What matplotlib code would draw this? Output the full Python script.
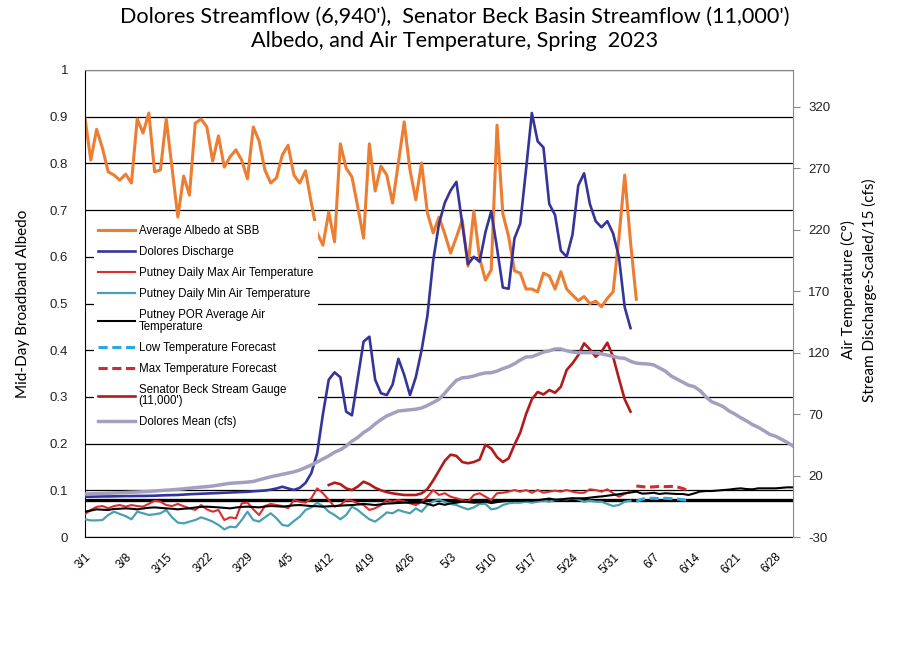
import matplotlib.pyplot as plt
import numpy as np

plt.rcParams['font.family'] = ['Liberation Sans', 'DejaVu Sans']
plt.rcParams['axes.unicode_minus'] = False

# x axis: day index from 3/1
tick_labels = ["3/1", "3/8", "3/15", "3/22", "3/29", "4/5", "4/12", "4/19", "4/26",
               "5/3", "5/10", "5/17", "5/24", "5/31", "6/7", "6/14", "6/21", "6/28"]
tick_days = list(range(0, 120, 7))
last_day = 122

# left axis: mid-day albedo at SBB (from 3/1)
albedo = [0.897, 0.807, 0.873, 0.833, 0.782, 0.775, 0.764, 0.777, 0.758, 0.895,
          0.865, 0.908, 0.782, 0.786, 0.895, 0.790, 0.685, 0.773, 0.732, 0.886,
          0.895, 0.878, 0.805, 0.859, 0.792, 0.814, 0.829, 0.807, 0.767, 0.878,
          0.848, 0.786, 0.758, 0.769, 0.818, 0.839, 0.775, 0.758, 0.784, 0.715,
          0.651, 0.625, 0.696, 0.632, 0.842, 0.790, 0.771, 0.707, 0.640, 0.842,
          0.741, 0.794, 0.775, 0.715, 0.801, 0.889, 0.786, 0.722, 0.801, 0.694,
          0.651, 0.685, 0.649, 0.608, 0.642, 0.679, 0.580, 0.698, 0.597, 0.550,
          0.572, 0.882, 0.692, 0.643, 0.570, 0.565, 0.531, 0.531, 0.525, 0.565,
          0.559, 0.531, 0.568, 0.531, 0.518, 0.506, 0.515, 0.500, 0.505, 0.493,
          0.511, 0.525, 0.640, 0.775, 0.632, 0.509]

# right axis: discharge scaled /15 (cfs) and air temperature (C)
dolores_q = [2.8, 2.8, 2.9, 3.0, 3.0, 3.1, 3.2, 3.3, 3.3, 3.4,
             3.4, 3.5, 3.6, 3.8, 4.0, 4.1, 4.2, 4.5, 4.8, 5.0,
             5.2, 5.4, 5.6, 5.8, 6.0, 6.2, 6.4, 6.6, 6.8, 7.2,
             7.5, 7.8, 8.5, 9.5, 10.9, 9.5, 8.3, 10.0, 14.0, 22.0,
             38.0, 70.0, 98.0, 104.0, 100.0, 72.0, 69.0, 99.0, 129.0, 133.0,
             98.0, 87.0, 85.5, 94.0, 115.0, 102.0, 85.5, 100.0, 122.0, 150.0,
             195.0, 225.0, 242.0, 252.0, 259.0, 225.0, 192.0, 198.0, 194.0, 218.0,
             235.0, 205.0, 173.0, 172.0, 213.0, 225.0, 269.0, 315.0, 292.0, 287.0,
             241.0, 232.0, 203.0, 198.0, 216.0, 256.0, 266.0, 241.0, 227.0, 222.0,
             227.0, 217.0, 198.0, 157.0, 140.0]

max_temp = [-11.3, -8.0, -5.5, -4.8, -6.6, -4.8, -4.0, -5.3, -4.0, -4.8,
            -5.3, -3.0, -0.5, -1.3, -4.0, -4.8, -3.1, -5.0, -6.6, -8.0,
            -4.0, -7.5, -9.4, -8.0, -16.2, -14.0, -14.8, -2.6, -2.0, -7.5,
            -12.1, -4.8, -3.1, -4.0, -4.8, -6.6, 0.1, -1.3, -2.0, 1.5,
            9.6, 5.6, 0.1, -5.3, -4.0, 0.1, -0.5, -2.5, -4.0, -8.0,
            -6.6, -4.0, 0.1, -1.3, 0.1, -1.0, -2.6, -4.0, -1.3, 2.8,
            8.2, 4.2, 5.6, 2.8, 1.5, 0.1, -1.3, 4.2, 5.6, 2.8,
            0.1, 5.6, 6.0, 6.9, 8.2, 6.9, 8.2, 6.0, 8.2, 6.0,
            6.9, 7.7, 6.9, 8.2, 6.9, 6.0, 6.0, 8.8, 8.2, 6.9,
            8.8, 5.6, 2.8, 5.0, 7.0]

min_temp = [-15.6, -16.5, -16.5, -16.2, -12.1, -9.4, -11.3, -13.0, -15.6, -9.4,
            -10.7, -12.1, -11.5, -10.7, -8.0, -14.0, -18.3, -18.9, -17.5, -16.2,
            -14.0, -15.6, -17.5, -20.2, -23.8, -21.6, -22.1, -16.2, -9.4, -16.2,
            -17.5, -14.0, -10.7, -14.8, -20.2, -21.0, -17.0, -13.5, -8.0, -6.0,
            -2.1, -4.8, -9.4, -12.1, -15.6, -12.1, -5.3, -8.0, -12.0, -15.6,
            -17.5, -14.0, -10.0, -10.7, -8.0, -9.5, -10.7, -6.7, -9.4, -4.0,
            -1.0, 0.5, -1.5, -3.1, -4.0, -5.9, -7.5, -5.9, -3.1, -3.1,
            -7.5, -6.7, -4.0, -2.6, -2.1, -2.1, -1.3, -2.1, -1.3, -0.4,
            -1.3, 0.1, 1.0, 0.6, 1.5, 0.6, -1.3, -0.4, -1.3, -1.3,
            -3.1, -4.8, -4.0, -1.3, -0.5]

por_avg = [-9.4, -8.5, -7.5, -7.8, -8.0, -7.2, -7.0, -6.7, -7.0, -7.5,
           -6.8, -6.2, -5.9, -6.3, -6.7, -7.0, -7.5, -7.0, -6.7, -6.0,
           -5.5, -5.3, -5.6, -5.9, -6.3, -6.7, -6.0, -5.5, -5.3, -5.6,
           -5.9, -5.2, -4.8, -5.0, -5.3, -4.8, -4.2, -4.0, -4.4, -4.8,
           -5.0, -5.3, -5.0, -4.8, -4.5, -4.2, -4.0, -3.6, -3.1, -3.5,
           -4.0, -3.4, -2.8, -2.6, -2.3, -2.1, -2.1, -2.1, -1.8, -3.0,
           -4.5, -2.8, -3.8, -2.6, -2.1, -1.3, -1.6, -2.1, -1.8, -1.3,
           -2.4, -1.6, -1.0, -0.6, -0.4, -0.4, -0.4, -0.2, 0.0, 0.6,
           1.3, 0.4, 0.5, 1.2, 1.5, 1.5, 1.5, 2.0, 2.6, 3.0,
           3.6, 4.2, 4.8, 5.6, 6.2, 6.9, 5.3, 5.5, 6.0, 5.0,
           5.6, 5.3, 5.0, 5.0, 4.2, 5.5, 7.0, 7.4, 7.4, 7.8,
           8.2, 8.6, 9.2, 9.6, 9.0, 8.8, 9.6, 9.6, 9.6, 9.6,
           10.0, 10.4, 10.4]

forecast_start = 95
low_forecast = [-1.0, 0.8, 1.5, 1.5, 1.2, 1.5, 1.2, 1.0, 0.3, -0.5]
max_forecast = [11.5, 11.0, 10.5, 10.8, 11.2, 11.0, 11.2, 10.8, 9.5, 7.5]

sbb_start = 42
sbb_gauge = [12.3, 14.2, 13.0, 9.6, 8.2, 11.0, 15.0, 13.0, 10.0, 8.0,
             6.5, 5.5, 4.8, 4.2, 4.2, 4.2, 5.5, 9.0, 16.0, 24.0,
             32.0, 37.0, 36.0, 31.0, 30.0, 31.0, 33.0, 45.0, 42.0, 35.0,
             31.0, 34.0, 45.0, 55.0, 70.0, 82.0, 88.0, 86.0, 89.6, 87.4,
             92.3, 105.9, 111.3, 118.0, 127.6, 122.7, 116.7, 120.8, 128.1, 116.7,
             99.0, 82.0, 72.0]

dolores_mean = [5.0, 5.1, 5.3, 5.4, 5.6, 5.8, 6.0, 6.2, 6.4, 6.6,
                6.8, 7.1, 7.4, 7.8, 8.1, 8.4, 8.8, 9.2, 9.7, 10.2,
                10.6, 11.0, 11.5, 12.2, 13.0, 13.7, 14.0, 14.3, 14.7, 15.2,
                16.5, 17.8, 19.0, 20.0, 21.0, 22.0, 23.0, 24.5, 26.5, 28.6,
                31.0, 33.5, 36.0, 39.0, 41.0, 44.0, 48.0, 51.0, 55.0, 58.0,
                62.0, 65.5, 68.5, 70.5, 72.5, 73.0, 73.5, 74.0, 75.0, 77.0,
                79.5, 82.0, 87.0, 92.5, 97.5, 99.5, 100.0, 101.0, 102.5, 103.5,
                103.7, 105.0, 107.0, 108.6, 111.0, 114.0, 116.5, 116.7, 118.5, 120.5,
                121.5, 123.0, 123.0, 121.5, 120.5, 120.0, 120.0, 120.0, 120.0, 119.0,
                118.0, 117.0, 115.8, 115.4, 113.0, 111.5, 111.0, 110.8, 110.0, 107.5,
                105.0, 101.0, 98.5, 96.0, 93.5, 92.3, 89.0, 84.0, 80.0, 78.2,
                76.0, 72.5, 70.0, 67.0, 64.5, 61.5, 59.3, 56.5, 53.5, 52.0,
                49.5, 47.0, 44.0]

fig = plt.figure(figsize=(9.09, 6.6), dpi=100)
ax = fig.add_axes([85/909, 1-537/660, 708/909, 467/660])
ax2 = ax.twinx()

def days(vals, start=0):
    return np.arange(start, start + len(vals))

# albedo on primary axis
l_alb, = ax.plot(days(albedo), albedo, color='#ED7D31', lw=2.2, label='Average Albedo at SBB')
ax.set_ylim(0, 1)
ax.set_yticks(np.arange(0, 1.01, 0.1))
ax.set_yticklabels(['0', '0.1', '0.2', '0.3', '0.4', '0.5', '0.6', '0.7', '0.8', '0.9', '1'])
ax.yaxis.grid(True, color='black', lw=0.9)
ax.set_axisbelow(True)
ax.set_xlim(0, last_day)
ax.set_xticks(tick_days)
ax.set_xticklabels(tick_labels, rotation=45, ha='right', va='top', rotation_mode='anchor')
ax.tick_params(axis='x', length=0, pad=10, labelsize=8.5)
ax.tick_params(axis='y', length=0, pad=12, labelsize=9.5, labelcolor='#222222')
ax.set_ylabel('Mid-Day Broadband Albedo', family=['Lato', 'DejaVu Sans'], fontsize=11, labelpad=14)

# secondary axis series
ax2.axhline(0, color='black', lw=2.4, zorder=1)
l_q, = ax2.plot(days(dolores_q), dolores_q, color='#34349A', lw=1.9, label='Dolores Discharge')
l_max, = ax2.plot(days(max_temp), max_temp, color='#DD2C2C', lw=1.5, label='Putney Daily Max Air Temperature')
l_min, = ax2.plot(days(min_temp), min_temp, color='#4A9FB0', lw=1.6, label='Putney Daily Min Air Temperature')
l_por, = ax2.plot(days(por_avg), por_avg, color='black', lw=1.5, label='Putney POR Average Air\nTemperature')
l_lowf, = ax2.plot(days(low_forecast, forecast_start), low_forecast, color='#29A9DF', lw=2.2,
                   ls=(0, (3, 1.5)), label='Low Temperature Forecast')
l_maxf, = ax2.plot(days(max_forecast, forecast_start), max_forecast, color='#D42A2A', lw=2.2,
                   ls=(0, (3, 1.5)), label='Max Temperature Forecast')
l_sbb, = ax2.plot(days(sbb_gauge, sbb_start), sbb_gauge, color='#B21B1B', lw=1.9,
                  label="Senator Beck Stream Gauge\n(11,000')")
l_mean, = ax2.plot(days(dolores_mean), dolores_mean, color='#A59FBF', lw=2.5, label='Dolores Mean (cfs)')

ax2.set_ylim(-30, 350)
ax2.set_yticks(np.arange(-30, 321, 50))
ax2.tick_params(axis='y', length=5, color='#888888', pad=6, labelsize=9.5, labelcolor='#222222')
ax2.set_xlim(0, last_day)

for s in ['left', 'bottom']:
    ax.spines[s].set_color('black')
    ax2.spines[s].set_visible(False)
for s in ['top', 'right']:
    ax.spines[s].set_visible(False)
    ax2.spines[s].set_color('#888888')

fig.text(859/909, 1-290/660, 'Air Temperature (C°)\nStream Discharge-Scaled/15 (cfs)',
         rotation=90, ha='center', va='center', multialignment='center',
         family=['Lato', 'DejaVu Sans'], fontsize=11, linespacing=1.5)

handles = [l_alb, l_q, l_max, l_min, l_por, l_lowf, l_maxf, l_sbb, l_mean]
leg = ax2.legend(handles=handles, loc='upper left', bbox_to_anchor=(0.004, 0.69),
                 fontsize=8.3, frameon=True, facecolor='white', edgecolor='none', framealpha=1,
                 fancybox=False, handlelength=3.2, handletextpad=0.3, labelspacing=0.78,
                 borderpad=0.4)
for t in leg.get_texts():
    t.set_linespacing(0.95)
leg.set_zorder(10)

fig.text(0.5, 1-7/660,
         "Dolores Streamflow (6,940'),  Senator Beck Basin Streamflow (11,000')\nAlbedo, and Air Temperature, Spring  2023",
         ha='center', va='top', family=['Lato', 'DejaVu Sans'], fontsize=15.6, linespacing=1.28)

fig.savefig('out.png', dpi=100)
